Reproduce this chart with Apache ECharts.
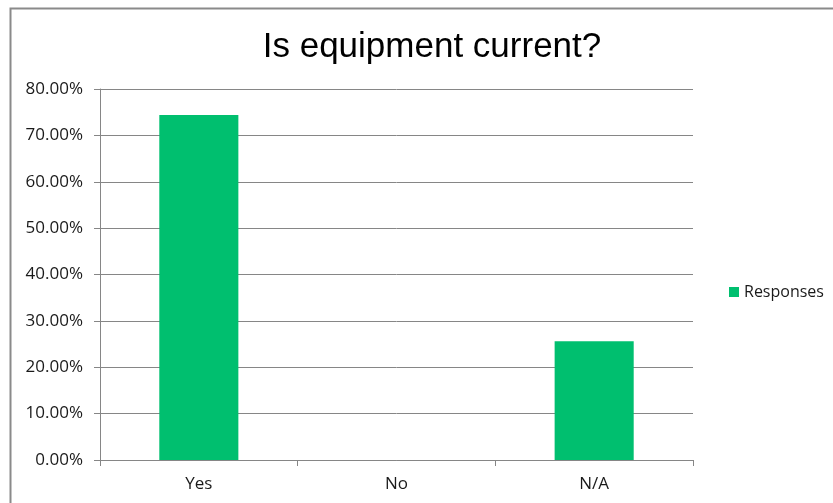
<!DOCTYPE html>
<html><head><meta charset="utf-8">
<script src="https://cdn.jsdelivr.net/npm/echarts@6/dist/echarts.min.js"></script>
<style>html,body{margin:0;padding:0;background:#fff}#c{width:833px;height:503px}</style>
</head><body><div id="c"></div>
<script>
const categories = ['Yes', 'No', 'N/A'];
const responses = [74.4, 0, 25.6];
const yTicks = [0, 10, 20, 30, 40, 50, 60, 70, 80];

const chart = echarts.init(document.getElementById('c'));
chart.setOption({
  animation: false,
  graphic: [{
    type: 'rect', shape: {x: 10.5, y: 8.5, width: 840, height: 510},
    style: {fill: 'none', stroke: '#8a8a8a', lineWidth: 2}, silent: true
  }],
  title: {
    text: 'Is equipment current?', left: 427, top: 22, textAlign: 'center',
    textStyle: {fontFamily: 'Liberation Sans', fontSize: 35, lineHeight: 40, fontWeight: 'normal', color: '#000'}
  },
  legend: {
    data: ['Responses'], left: 724, top: 279, itemWidth: 10, itemHeight: 10, itemGap: 7,
    icon: 'rect',
    textStyle: {fontFamily: 'Open Sans', fontSize: 16, color: '#1a1a1a'}
  },
  grid: {left: 100, right: 140, top: 89, bottom: 43, containLabel: false},
  xAxis: {
    type: 'category', data: categories,
    axisLine: {lineStyle: {color: '#868686', width: 1}},
    axisTick: {show: true, length: 6, lineStyle: {color: '#868686'}, alignWithLabel: false},
    axisLabel: {fontFamily: 'Open Sans', fontSize: 17, color: '#1a1a1a', margin: 16}
  },
  yAxis: {
    type: 'value', min: yTicks[0], max: yTicks[yTicks.length - 1], interval: 10,
    axisLine: {show: true, lineStyle: {color: '#868686'}},
    axisTick: {show: true, length: 6, inside: false, lineStyle: {color: '#868686'}},
    splitLine: {lineStyle: {color: '#868686', width: 1}},
    axisLabel: {fontFamily: 'Open Sans', fontSize: 17, color: '#1a1a1a', margin: 17,
      formatter: v => v.toFixed(2) + '%'}
  },
  series: [{
    name: 'Responses', type: 'bar', data: responses, barWidth: '40%',
    itemStyle: {color: '#00BF6F'}
  }]
});
</script></body></html>
